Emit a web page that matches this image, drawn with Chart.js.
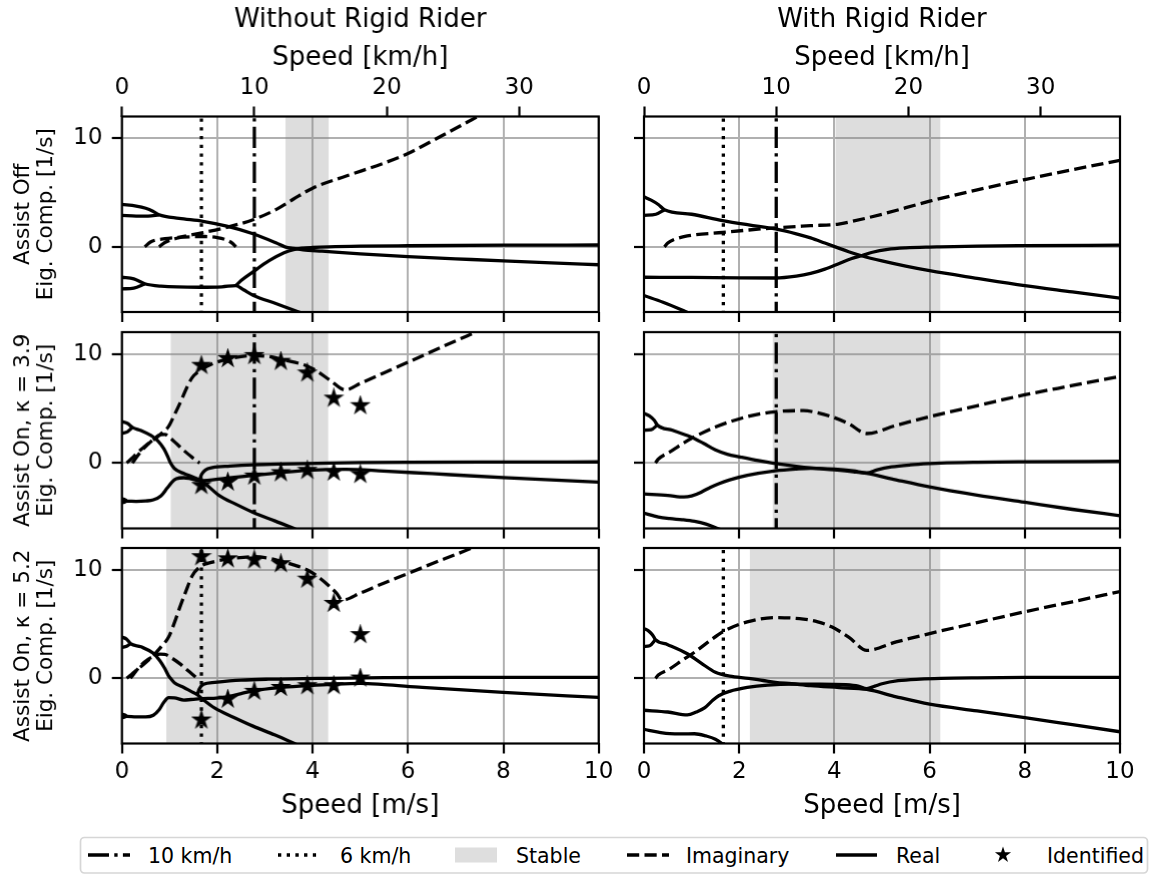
<!DOCTYPE html>
<html>
<head>
<meta charset="utf-8">
<script src="https://cdn.jsdelivr.net/npm/chart.js@4.4.1/dist/chart.umd.min.js"></script>
<style>
  body { margin: 0; background: #fff; width: 1151px; height: 875px; overflow: hidden; position: relative; }
  .panel { position: absolute; }
  #legend { position: absolute; left: 0; top: 830px; }
</style>
</head>
<body>
<svg id="legend" width="1151" height="45" font-family="DejaVu Sans" font-size="20.5">
  <rect x="80.5" y="7.5" width="1067" height="35.5" rx="4" fill="#fff" stroke="#d6d6d6" stroke-width="1.7"/>
  <line x1="88" x2="130" y1="25" y2="25" stroke="#000" stroke-width="3.3" stroke-dasharray="21 5.3 3.3 5.3"/>
  <text x="148" y="32.5">10 km/h</text>
  <line x1="278" x2="320" y1="25" y2="25" stroke="#000" stroke-width="3.3" stroke-dasharray="3.3 5.4"/>
  <text x="340" y="32.5">6 km/h</text>
  <rect x="455" y="17.5" width="42" height="15" fill="#dedede"/>
  <text x="516" y="32.5">Stable</text>
  <line x1="627" x2="669" y1="25" y2="25" stroke="#000" stroke-width="3.3" stroke-dasharray="12.2 5.3"/>
  <text x="686" y="32.5">Imaginary</text>
  <line x1="836" x2="877" y1="25" y2="25" stroke="#000" stroke-width="3.3"/>
  <text x="896" y="32.5">Real</text>
  <polygon id="legendStar" fill="#000"/>
  <text x="1047" y="32.5">Identified</text>
</svg>
<script>
// ---- axes ----
const speedTicks = [0, 2, 4, 6, 8, 10];
const kmhTicks = [0, 10, 20, 30];
const eigTicks = [0, 10];
const columnTitles = ['Without Rigid Rider', 'With Rigid Rider'];
const rowLabels = [
  ['Assist Off', 'Eig. Comp. [1/s]'],
  ['Assist On, κ = 3.9', 'Eig. Comp. [1/s]'],
  ['Assist On, κ = 5.2', 'Eig. Comp. [1/s]']
];
const speed10kmh = 2.778;
const speed6kmh = 1.667;
const identifiedSpeeds = [1.667, 2.222, 2.778, 3.333, 3.889, 4.444, 5.0];

// ---- assist off, without rider ----
const offBareReal = [
  [[0,3.9],[0.3,3.75],[0.5,3.55],[0.65,3.28],[0.78,2.95],[1.2,2.62],[1.7,2.35],[2.2,1.9],[2.75,1.2],[3.24,0.35],[3.42,0],[3.6,-0.15],[3.8,-0.27],[4.2,-0.4],[5,-0.65],[6,-0.9],[7,-1.1],[8,-1.3],[9,-1.48],[10,-1.65]],
  [[0,2.9],[0.3,2.83],[0.55,2.83],[0.78,2.95]],
  [[0,-2.8],[0.25,-2.95],[0.48,-3.4],[0.82,-3.62],[1.63,-3.72],[2.1,-3.68],[2.39,-3.57],[2.55,-3.95],[2.75,-4.45],[3.24,-5.24],[3.68,-5.95],[3.9,-6.3]],
  [[0,-3.87],[0.25,-3.8],[0.48,-3.42]],
  [[2.39,-3.57],[2.5,-3.1],[2.75,-2.3],[3.08,-1.3],[3.4,-0.55],[3.6,-0.25],[3.8,-0.12],[4.0,-0.06],[4.34,0],[5,0.06],[6,0.1],[8,0.15],[10,0.17]]
];
const offBareImag = [
  [[0.78,0],[0.9,0.4],[1.2,0.85],[1.7,1.3],[2.2,1.8],[2.75,2.5],[3.24,3.45],[3.6,4.4],[4.0,5.4],[4.69,6.5],[5.49,7.7],[6,8.6],[6.7,10.2],[7.42,11.9],[7.7,12.6]],
  [[0.48,0],[0.6,0.45],[0.9,0.75],[1.3,0.9],[1.75,0.95],[2.0,0.85],[2.2,0.62],[2.32,0.32],[2.39,0]]
];
const offBareStable = [3.43, 4.34];

// ---- assist off, with rider ----
const offRiderReal = [
  [[0,4.6],[0.15,4.3],[0.3,3.9],[0.43,3.42],[1.0,3.0],[1.65,2.42],[2.2,2.02],[2.76,1.65],[3.2,1.2],[3.5,0.82],[3.8,0.35],[4.02,0],[4.3,-0.45],[4.57,-0.82],[5.0,-1.3],[5.5,-1.78],[6.0,-2.2],[7,-2.9],[8,-3.57],[9,-4.15],[10,-4.73]],
  [[0,2.9],[0.25,3.0],[0.43,3.42]],
  [[0,-2.8],[1,-2.82],[2,-2.86],[2.76,-2.87],[3.2,-2.7],[3.5,-2.45],[3.8,-2.05],[4.09,-1.55],[4.35,-1.1],[4.57,-0.82],[4.8,-0.5],[5.12,-0.24],[5.5,-0.1],[6.0,-0.02],[6.23,0],[7,0.07],[8,0.11],[10,0.15]],
  [[0,-4.48],[0.4,-5.1],[0.87,-5.95],[1.0,-6.2]]
];
const offRiderImag = [
  [[0.43,0],[0.5,0.35],[0.62,0.65],[0.91,1.0],[1.65,1.32],[2.2,1.55],[2.76,1.75],[3.5,1.95],[4.09,2.1],[4.38,2.35],[5,3.0],[6,4.2],[7,5.25],[8,6.19],[9,7.1],[10,7.96]]
];
const offRiderStable = [4.02, 6.23];

// ---- assist on kappa 3.9, without rider ----
const k39BareReal = [
  [[0,3.8],[0.12,3.62],[0.22,3.26],[0.4,2.98],[0.6,2.55],[0.75,2.05],[0.88,1.3],[0.96,0.6],[1.02,0],[1.1,-0.5],[1.3,-0.97],[1.5,-1.3],[1.63,-1.56],[1.8,-2.1],[2.03,-2.95],[2.4,-3.8],[2.75,-4.52],[3.2,-5.3],[3.64,-6.06],[3.8,-6.4]],
  [[0,2.72],[0.12,2.88],[0.22,3.26]],
  [[1.63,-1.56],[1.67,-1.05],[1.75,-0.65],[1.9,-0.42],[2.27,-0.28],[2.75,-0.16],[3.3,-0.09],[3.88,-0.05],[4.33,0],[5,0.04],[6,0.07],[8,0.09],[10,0.1]],
  [[0,-3.28],[0.05,-3.33],[0.1,-3.46]],
  [[0,-3.63],[0.05,-3.6],[0.1,-3.5],[0.3,-3.52],[0.5,-3.48],[0.66,-3.38],[0.82,-3.0],[0.95,-2.3],[1.05,-1.75],[1.14,-1.45],[1.3,-1.35],[1.45,-1.45],[1.63,-1.62],[2.2,-1.38],[2.75,-1.14],[3.3,-0.9],[3.88,-0.68],[4.69,-0.58],[5.49,-0.74],[6.5,-0.98],[8,-1.33],[10,-1.75]]
];
const k39BareImag = [
  [[0.1,0],[0.2,0.4],[0.34,1.0],[0.5,1.6],[0.66,2.1],[0.85,2.8],[0.98,3.35],[1.1,4.4],[1.22,5.5],[1.35,6.8],[1.47,7.8],[1.63,8.45],[1.9,9.1],[2.2,9.5],[2.75,9.85],[3.1,9.75],[3.4,9.45],[3.88,8.9],[4.1,8.4],[4.36,7.6],[4.69,6.7],[5.0,7.3],[5.49,8.25],[6,9.24],[7,11.2],[7.42,12.0],[7.7,12.55]],
  [[0.22,0],[0.3,0.5],[0.45,1.3],[0.66,2.15],[0.8,2.6],[0.9,2.62],[1.0,2.35],[1.15,1.75],[1.3,1.15],[1.45,0.6],[1.58,0.15],[1.63,0]]
];
const k39BareStable = [1.02, 4.33];
const k39IdentImag = [8.95, 9.57, 9.85, 9.32, 8.25, 5.94, 5.26];
const k39IdentReal = [-2.06, -1.75, -1.2, -0.89, -0.68, -0.83, -1.05];

// ---- assist on kappa 3.9, with rider ----
const k39RiderReal = [
  [[0,4.55],[0.12,4.3],[0.22,3.9],[0.28,3.48],[0.6,3.0],[0.98,2.4],[1.25,1.8],[1.5,1.2],[1.75,0.8],[2.02,0.55],[2.4,0.22],[2.7,0],[3.2,-0.3],[3.5,-0.45],[4.0,-0.63],[4.4,-0.8],[4.68,-0.95],[5.2,-1.45],[6.0,-2.2],[7,-2.95],[8,-3.6],[9,-4.25],[10,-4.83]],
  [[0,3.0],[0.15,3.05],[0.28,3.48]],
  [[0,-2.83],[0.5,-2.97],[0.84,-3.12],[1.0,-3.02],[1.2,-2.68],[1.4,-2.22],[1.57,-1.9],[1.8,-1.55],[2.17,-1.14],[2.76,-0.72],[3.2,-0.55],[3.5,-0.48],[4.0,-0.56],[4.4,-0.72],[4.68,-0.9],[4.9,-0.62],[5.2,-0.36],[5.6,-0.17],[6.0,-0.05],[6.23,0],[7,0.07],[8,0.11],[10,0.15]],
  [[0,-4.6],[0.3,-4.95],[0.54,-5.1],[0.8,-5.2],[1.06,-5.35],[1.3,-5.6],[1.57,-6.05],[1.7,-6.3]]
];
const k39RiderImag = [
  [[0.24,0],[0.3,0.35],[0.54,1.0],[0.8,1.75],[1.06,2.4],[1.5,3.3],[2.17,4.25],[2.76,4.7],[3.35,4.8],[3.65,4.6],[3.94,4.25],[4.3,3.6],[4.68,2.7],[5.3,3.45],[6.0,4.25],[7,5.25],[8,6.25],[9,7.1],[10,7.94]]
];
const k39RiderStable = [2.7, 6.23];

// ---- assist on kappa 5.2, without rider ----
const k52BareReal = [
  [[0,3.8],[0.1,3.6],[0.18,3.2],[0.4,2.9],[0.66,2.3],[0.8,1.6],[0.9,0.9],[0.97,0.3],[1.02,0],[1.1,-0.4],[1.3,-0.84],[1.45,-1.2],[1.58,-1.5],[1.7,-1.95],[1.95,-2.75],[2.35,-3.6],[2.75,-4.4],[3.2,-5.2],[3.64,-6.04],[3.8,-6.35]],
  [[0,2.85],[0.1,2.95],[0.18,3.2]],
  [[1.58,-1.5],[1.62,-1.0],[1.71,-0.55],[1.95,-0.37],[2.5,-0.17],[3.07,-0.08],[3.8,-0.03],[4.33,0],[5.5,0.07],[7,0.09],[10,0.09]],
  [[0,-3.3],[0.05,-3.35],[0.1,-3.47]],
  [[0,-3.62],[0.05,-3.58],[0.1,-3.5],[0.3,-3.55],[0.5,-3.55],[0.66,-3.4],[0.78,-2.9],[0.88,-2.2],[0.98,-1.78],[1.1,-1.8],[1.3,-2.0],[1.45,-1.95],[1.6,-1.9],[2.19,-1.72],[2.5,-1.4],[2.75,-1.15],[3.3,-0.85],[3.88,-0.68],[4.4,-0.55],[5.0,-0.46],[5.5,-0.58],[6.3,-0.84],[8,-1.3],[10,-1.76]]
];
const k52BareImag = [
  [[0.1,0],[0.2,0.35],[0.34,0.87],[0.5,1.45],[0.66,2.1],[0.82,2.9],[0.98,3.8],[1.1,5.1],[1.22,6.6],[1.35,8.1],[1.47,9.4],[1.63,10.25],[1.9,10.7],[2.19,10.95],[2.75,11.2],[3.1,11.05],[3.32,10.8],[3.6,10.45],[3.88,10.0],[4.1,9.4],[4.36,8.45],[4.5,7.85],[4.62,7.2],[5.0,7.85],[5.49,8.76],[6,9.65],[6.5,10.55],[7,11.4],[7.34,12.0],[7.6,12.5]],
  [[0.18,0],[0.25,0.4],[0.4,1.2],[0.55,1.75],[0.66,2.0],[0.8,2.22],[0.9,2.2],[1.05,1.85],[1.22,1.33],[1.35,0.85],[1.47,0.4],[1.55,0.1],[1.58,0]]
];
const k52BareStable = [0.93, 4.33];
const k52IdentImag = [11.2, 11.0, 10.9, 10.55, 9.13, 6.9, 4.02];
const k52IdentReal = [-3.84, -1.92, -1.2, -0.84, -0.68, -0.68, 0.03];

// ---- assist on kappa 5.2, with rider ----
const k52RiderReal = [
  [[0,4.58],[0.1,4.35],[0.18,4.0],[0.24,3.56],[0.5,3.1],[0.91,2.26],[1.2,1.4],[1.5,0.56],[1.8,0.2],[2.2,0],[2.5,-0.2],[2.76,-0.37],[3.1,-0.5],[3.5,-0.68],[4.1,-0.85],[4.68,-1.02],[5.3,-1.7],[6.0,-2.38],[7,-3.0],[8,-3.62],[9,-4.27],[10,-4.92]],
  [[0,2.94],[0.12,3.0],[0.24,3.56]],
  [[0,-2.94],[0.5,-3.1],[0.91,-3.37],[1.1,-3.1],[1.28,-2.7],[1.45,-2.0],[1.57,-1.6],[1.8,-1.2],[2.17,-0.84],[2.6,-0.62],[3.13,-0.53],[3.7,-0.53],[4.24,-0.59],[4.5,-0.72],[4.68,-0.95],[4.85,-0.72],[5.0,-0.5],[5.34,-0.22],[5.8,-0.07],[6.23,0],[7,0.05],[8,0.08],[10,0.09]],
  [[0,-4.7],[0.3,-4.95],[0.54,-5.1],[0.8,-5.12],[1.06,-5.1],[1.3,-5.3],[1.5,-5.6],[1.65,-6.04],[1.75,-6.4]]
];
const k52RiderImag = [
  [[0.24,0],[0.3,0.3],[0.54,0.87],[0.8,1.65],[1.06,2.4],[1.35,3.35],[1.65,4.27],[2.17,5.2],[2.76,5.6],[3.35,5.45],[3.65,5.2],[3.94,4.74],[4.3,3.8],[4.68,2.57],[5.3,3.35],[6.0,4.12],[7,5.13],[8,6.13],[9,7.05],[10,7.99]]
];
const k52RiderStable = [2.22, 6.23];

const panels = [
  [
    { real: offBareReal, imag: offBareImag, stable: offBareStable, refs: ['dotted', 'dashdot'] },
    { real: offRiderReal, imag: offRiderImag, stable: offRiderStable, refs: ['dotted', 'dashdot'] }
  ],
  [
    { real: k39BareReal, imag: k39BareImag, stable: k39BareStable, refs: ['dashdot'], identImag: k39IdentImag, identReal: k39IdentReal },
    { real: k39RiderReal, imag: k39RiderImag, stable: k39RiderStable, refs: ['dashdot'] }
  ],
  [
    { real: k52BareReal, imag: k52BareImag, stable: k52BareStable, refs: ['dotted'], identImag: k52IdentImag, identReal: k52IdentReal },
    { real: k52RiderReal, imag: k52RiderImag, stable: k52RiderStable, refs: ['dotted'] }
  ]
];

// ---- layout / style ----
const titlePadTop = 5;
const box = { plotLeft: [121.7, 644.3], plotTop: [116.5, 332.2, 547.8], plotW: 476, plotH: 195.5, xLabelBottom: 835, titleH: titlePadTop + 31.2 };
const LW = 3.3;
const dashes = { solid: [], dashed: [3.7 * LW, 1.6 * LW], dotted: [1 * LW, 1.65 * LW], dashdot: [6.4 * LW, 1.6 * LW, 1 * LW, 1.6 * LW] };
const gridColor = '#b0b0b0';

Chart.defaults.font.family = "'DejaVu Sans', sans-serif";
Chart.defaults.color = '#000';

function makeStar(r) {
  const c = document.createElement('canvas');
  const s = Math.ceil(r * 2 + 4);
  c.width = s; c.height = s;
  const g = c.getContext('2d');
  g.translate(s / 2, s / 2);
  g.beginPath();
  for (let i = 0; i < 10; i++) {
    const rad = i % 2 === 0 ? r : r * 0.381966;
    const a = -Math.PI / 2 + i * Math.PI / 5;
    g.lineTo(rad * Math.cos(a), rad * Math.sin(a));
  }
  g.closePath();
  g.fillStyle = '#000';
  g.fill();
  g.lineWidth = 1.5;
  g.strokeStyle = '#000';
  g.stroke();
  return c;
}
const starImg = makeStar(8.5);

// legend star
(function () {
  const pts = [];
  for (let i = 0; i < 10; i++) {
    const rad = i % 2 === 0 ? 8.5 : 8.5 * 0.381966;
    const a = -Math.PI / 2 + i * Math.PI / 5;
    pts.push((1003 + rad * Math.cos(a)).toFixed(2) + ',' + (25 + rad * Math.sin(a)).toFixed(2));
  }
  document.getElementById('legendStar').setAttribute('points', pts.join(' '));
})();

const framePlugin = {
  id: 'frame',
  afterDraw(chart) {
    const { ctx, chartArea: a } = chart;
    ctx.save();
    ctx.strokeStyle = '#000';
    ctx.lineWidth = 2.2;
    ctx.strokeRect(a.left, a.top, a.right - a.left, a.bottom - a.top);
    ctx.restore();
  }
};

function curve(pts, dash) {
  return {
    data: pts.map(([x, y]) => ({ x, y })),
    showLine: true, borderColor: '#000', borderWidth: LW, borderDash: dash,
    pointRadius: 0, cubicInterpolationMode: 'monotone', fill: false, order: 2,
    xAxisID: 'x', yAxisID: 'y'
  };
}

function vline(v, dash) {
  return {
    data: [{ x: v, y: -7 }, { x: v, y: 13 }],
    showLine: true, borderColor: '#000', borderWidth: LW, borderDash: dash,
    pointRadius: 0, tension: 0, fill: false, order: 1, xAxisID: 'x', yAxisID: 'y'
  };
}

function span([a, b]) {
  return {
    data: [{ x: a, y: 12 }, { x: b, y: 12 }],
    showLine: true, borderColor: 'transparent', borderWidth: 1,
    backgroundColor: 'rgba(128,128,128,0.27)', fill: 'start',
    pointRadius: 0, tension: 0, order: 10, xAxisID: 'x', yAxisID: 'y'
  };
}

function stars(vals) {
  return {
    data: identifiedSpeeds.map((x, i) => ({ x, y: vals[i] })),
    showLine: false, pointStyle: starImg, pointRadius: 8, order: 0,
    xAxisID: 'x', yAxisID: 'y'
  };
}

function makeChart(r, c) {
  const p = panels[r][c];
  const left = c === 0 ? 0 : box.plotLeft[1] - 24;
  const yW = box.plotLeft[c] - left;
  const padTop = r === 0 ? 0 : 26;
  const padRight = 30;
  const top = r === 0 ? 0 : box.plotTop[r] - padTop;
  const plotBottom = box.plotTop[r] + box.plotH;
  const xBotH = r === 2 ? box.xLabelBottom - plotBottom : 26;
  const xTopH = box.plotTop[0] - box.titleH;

  const div = document.createElement('div');
  div.className = 'panel';
  div.style.left = left + 'px';
  div.style.top = top + 'px';
  div.style.width = (yW + box.plotW + padRight) + 'px';
  div.style.height = (plotBottom + xBotH - top) + 'px';
  const canvas = document.createElement('canvas');
  div.appendChild(canvas);
  document.body.appendChild(div);

  const datasets = [span(p.stable)];
  p.refs.forEach(kind => datasets.push(vline(kind === 'dotted' ? speed6kmh : speed10kmh, dashes[kind])));
  p.real.forEach(b => datasets.push(curve(b, dashes.solid)));
  p.imag.forEach(b => datasets.push(curve(b, dashes.dashed)));
  if (p.identImag) {
    datasets.push(stars(p.identImag));
    datasets.push(stars(p.identReal));
  }

  const scales = {
    x: {
      type: 'linear', position: 'bottom', min: 0, max: 10,
      afterBuildTicks: s => { s.ticks = speedTicks.map(v => ({ value: v })); },
      afterFit: s => { s.height = xBotH; },
      grid: { color: gridColor, lineWidth: 2, tickLength: 10, tickColor: '#000', tickWidth: 2.2 },
      border: { display: false },
      ticks: { display: r === 2, font: { size: 23, lineHeight: 1 }, padding: 7, maxRotation: 0, autoSkip: false },
      title: { display: r === 2, text: 'Speed [m/s]', font: { size: 26, lineHeight: 1.2 }, padding: { top: 0, bottom: 13 } }
    },
    y: {
      type: 'linear', position: 'left', min: -6, max: 12,
      afterBuildTicks: s => { s.ticks = eigTicks.map(v => ({ value: v })); },
      afterFit: s => { s.width = yW; },
      grid: { color: gridColor, lineWidth: 2, tickLength: 10, tickColor: '#000', tickWidth: 2.2 },
      border: { display: false },
      ticks: { display: c === 0, font: { size: 23 }, padding: 9.4 },
      title: { display: c === 0, text: rowLabels[r], font: { size: 21.5, lineHeight: 1.08 }, padding: { top: 11.4, bottom: 0 } }
    }
  };
  if (r === 0) {
    scales.xTop = {
      type: 'linear', axis: 'x', position: 'top', min: 0, max: 36,
      afterBuildTicks: s => { s.ticks = kmhTicks.map(v => ({ value: v })); },
      afterFit: s => { s.height = xTopH; },
      grid: { drawOnChartArea: false, tickLength: 10, tickColor: '#000', tickWidth: 2.2, color: '#000' },
      border: { display: false },
      ticks: { font: { size: 23, lineHeight: 1 }, padding: 7, maxRotation: 0, autoSkip: false },
      title: { display: true, text: 'Speed [km/h]', font: { size: 26, lineHeight: 1.2 }, padding: { top: 6, bottom: 0 } }
    };
  }

  return new Chart(canvas, {
    type: 'scatter',
    data: { datasets },
    options: {
      responsive: true, maintainAspectRatio: false, animation: false,
      layout: { padding: { top: padTop, right: padRight, bottom: 0, left: 0 } },
      plugins: {
        legend: { display: false },
        tooltip: { enabled: false },
        title: {
          display: r === 0, text: columnTitles[c], color: '#000', fullSize: false,
          font: { size: 26, weight: 'normal', lineHeight: 1.2 }, padding: { top: titlePadTop, bottom: 0 }
        }
      },
      scales
    },
    plugins: [framePlugin]
  });
}

for (let r = 0; r < 3; r++) {
  for (let c = 0; c < 2; c++) makeChart(r, c);
}
</script>
</body>
</html>
